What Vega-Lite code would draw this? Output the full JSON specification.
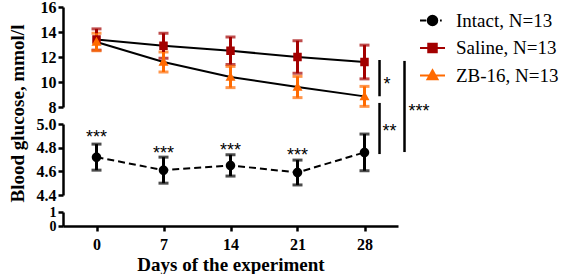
{
  "$schema": "https://vega.github.io/schema/vega-lite/v6.json",
  "background": "white",
  "padding": {"left": 7, "top": -1, "right": 0, "bottom": 0},
  "config": {
    "view": {"stroke": null},
    "axis": {
      "domainColor": "black", "domainWidth": 2.5, "tickColor": "black", "tickWidth": 2.5, "tickSize": 5,
      "labelFont": "Liberation Serif", "labelFontWeight": "bold", "labelFontSize": 16, "labelColor": "black", "labelPadding": 2,
      "titleFont": "Liberation Serif", "titleFontWeight": "bold", "titleFontSize": 19, "titleColor": "black", "grid": false
    },
    "legend": {"title": null, "orient": "none", "legendX": 356, "legendY": 0, "padding": 0, "labelFont": "Liberation Serif", "labelFontSize": 19, "labelColor": "black", "labelOffset": 10, "rowPadding": 3.5, "symbolSize": 625}
  },
  "datasets": {
    "means": [
      {"group": "Intact, N=13", "day": 0, "mean": 4.72, "sem": 0.11},
      {"group": "Intact, N=13", "day": 7, "mean": 4.61, "sem": 0.11},
      {"group": "Intact, N=13", "day": 14, "mean": 4.65, "sem": 0.09},
      {"group": "Intact, N=13", "day": 21, "mean": 4.59, "sem": 0.105},
      {"group": "Intact, N=13", "day": 28, "mean": 4.76, "sem": 0.155},
      {"group": "Saline, N=13", "day": 0, "mean": 13.4, "sem": 0.85},
      {"group": "Saline, N=13", "day": 7, "mean": 12.9, "sem": 1.0},
      {"group": "Saline, N=13", "day": 14, "mean": 12.5, "sem": 1.1},
      {"group": "Saline, N=13", "day": 21, "mean": 12.0, "sem": 1.3},
      {"group": "Saline, N=13", "day": 28, "mean": 11.6, "sem": 1.35},
      {"group": "ZB-16, N=13", "day": 0, "mean": 13.2, "sem": 0.7},
      {"group": "ZB-16, N=13", "day": 7, "mean": 11.6, "sem": 0.8},
      {"group": "ZB-16, N=13", "day": 14, "mean": 10.4, "sem": 0.85},
      {"group": "ZB-16, N=13", "day": 21, "mean": 9.6, "sem": 0.85},
      {"group": "ZB-16, N=13", "day": 28, "mean": 8.85, "sem": 0.8}
    ],
    "stars": [
      {"day": 0, "y": 4.836, "label": "***"},
      {"day": 7, "y": 4.701, "label": "***"},
      {"day": 14, "y": 4.726, "label": "***"},
      {"day": 21, "y": 4.686, "label": "***"}
    ],
    "brackets": [
      {"panel": "top", "x": 29.57, "y": 11.76, "y2": 8.86},
      {"panel": "mid", "x": 29.57, "y": 5.178, "y2": 4.746},
      {"panel": "mid", "x": 32.18, "y": 5.533, "y2": 4.763}
    ],
    "bracketLabels": [
      {"panel": "top", "x": 29.99, "y": 9.37, "label": "*"},
      {"panel": "mid", "x": 29.88, "y": 4.89, "label": "**"},
      {"panel": "mid", "x": 32.6, "y": 5.063, "label": "***"}
    ]
  },
  "spacing": 17,
  "bounds": "flush",
  "resolve": {"scale": {"color": "shared", "shape": "shared"}, "legend": {"color": "shared", "shape": "shared"}},
  "vconcat": [
    {
      "width": 335, "height": 100,
      "encoding": {
        "x": {"field": "day", "type": "quantitative", "scale": {"domain": [-3.5, 31.5], "nice": false, "zero": false}, "axis": null},
        "y": {"field": "mean", "type": "quantitative", "title": "Blood glucose, mmol/l", "scale": {"domain": [8, 16], "nice": false, "zero": false},
              "axis": {"values": [8, 10, 12, 14, 16], "titleX": -40, "titleY": 106, "titleBaseline": "alphabetic", "titleAlign": "center", "titleAngle": 270}}
      },
      "layer": [
        {
          "data": {"name": "means"},
          "transform": [{"filter": "datum.group !== 'Intact, N=13'"}],
          "mark": {"type": "line", "color": "black", "strokeWidth": 2},
          "encoding": {"detail": {"field": "group"}}
        },
        {
          "data": {"name": "means"},
          "transform": [{"filter": "datum.group !== 'Intact, N=13'"}],
          "mark": {"type": "errorbar", "thickness": 3, "ticks": {"size": 10, "thickness": 3}},
          "encoding": {
            "yError": {"field": "sem"},
            "color": {"field": "group", "type": "nominal", "scale": {"domain": ["Intact, N=13", "Saline, N=13", "ZB-16, N=13"], "range": ["black", "#a30000", "#ff6a00"]},
                      "legend": {"encode": {"symbols": {"update": {"stroke": {"value": "black"}, "strokeWidth": {"value": 2}}}}}}
          }
        },
        {
          "data": {"name": "means"},
          "transform": [{"filter": "datum.group !== 'Intact, N=13'"}],
          "mark": {"type": "point", "filled": true, "size": 625, "opacity": 1},
          "encoding": {
            "color": {"field": "group", "type": "nominal", "scale": {"domain": ["Intact, N=13", "Saline, N=13", "ZB-16, N=13"], "range": ["black", "#a30000", "#ff6a00"]},
                      "legend": {"encode": {"symbols": {"update": {"stroke": {"value": "black"}, "strokeWidth": {"value": 2}}}}}},
            "shape": {"field": "group", "type": "nominal", "scale": {"domain": ["Intact, N=13", "Saline, N=13", "ZB-16, N=13"],
                      "range": ["M-1,0H-0.5M0.6,0H0.74M0.38,0A0.38,0.38,0,1,1,-0.38,0A0.38,0.38,0,1,1,0.38,0Z", "M-1,0H1M-0.34,-0.34H0.34V0.34H-0.34Z", "M-1,0H1M0,-0.42L0.4,0.3H-0.4Z"]},
                      "legend": {"encode": {"symbols": {"update": {"stroke": {"value": "black"}, "strokeWidth": {"value": 2}}}}}}
          }
        },
        {
          "data": {"name": "brackets"},
          "transform": [{"filter": "datum.panel === 'top'"}],
          "mark": {"type": "rule", "color": "black", "strokeWidth": 2.5},
          "encoding": {
            "x": {"field": "x", "type": "quantitative"},
            "y": {"field": "y", "type": "quantitative", "title": "Blood glucose, mmol/l"},
            "y2": {"field": "y2"}
          }
        },
        {
          "data": {"name": "bracketLabels"},
          "transform": [{"filter": "datum.panel === 'top'"}],
          "mark": {"type": "text", "font": "Liberation Sans", "fontSize": 18, "align": "left", "baseline": "alphabetic", "color": "black"},
          "encoding": {
            "x": {"field": "x", "type": "quantitative"},
            "y": {"field": "y", "type": "quantitative", "title": "Blood glucose, mmol/l"},
            "text": {"field": "label"}
          }
        }
      ]
    },
    {
      "width": 335, "height": 71,
      "encoding": {
        "x": {"field": "day", "type": "quantitative", "scale": {"domain": [-3.5, 31.5], "nice": false, "zero": false}, "axis": null},
        "y": {"field": "mean", "type": "quantitative", "title": null, "scale": {"domain": [4.4, 5.0], "nice": false, "zero": false},
              "axis": {"values": [4.4, 4.6, 4.8, 5.0], "format": ".1f"}}
      },
      "layer": [
        {
          "data": {"name": "means"},
          "transform": [{"filter": "datum.group === 'Intact, N=13'"}],
          "mark": {"type": "line", "color": "black", "strokeWidth": 2, "strokeDash": [7, 4]}
        },
        {
          "data": {"name": "means"},
          "transform": [{"filter": "datum.group === 'Intact, N=13'"}],
          "mark": {"type": "errorbar", "thickness": 3, "ticks": {"size": 10, "thickness": 3}},
          "encoding": {
            "yError": {"field": "sem"},
            "color": {"field": "group", "type": "nominal", "scale": {"domain": ["Intact, N=13", "Saline, N=13", "ZB-16, N=13"], "range": ["black", "#a30000", "#ff6a00"]},
                      "legend": {"encode": {"symbols": {"update": {"stroke": {"value": "black"}, "strokeWidth": {"value": 2}}}}}}
          }
        },
        {
          "data": {"name": "means"},
          "transform": [{"filter": "datum.group === 'Intact, N=13'"}],
          "mark": {"type": "point", "filled": true, "size": 625, "opacity": 1},
          "encoding": {
            "color": {"field": "group", "type": "nominal", "scale": {"domain": ["Intact, N=13", "Saline, N=13", "ZB-16, N=13"], "range": ["black", "#a30000", "#ff6a00"]},
                      "legend": {"encode": {"symbols": {"update": {"stroke": {"value": "black"}, "strokeWidth": {"value": 2}}}}}},
            "shape": {"field": "group", "type": "nominal", "scale": {"domain": ["Intact, N=13", "Saline, N=13", "ZB-16, N=13"],
                      "range": ["M-1,0H-0.5M0.6,0H0.74M0.38,0A0.38,0.38,0,1,1,-0.38,0A0.38,0.38,0,1,1,0.38,0Z", "M-1,0H1M-0.34,-0.34H0.34V0.34H-0.34Z", "M-1,0H1M0,-0.42L0.4,0.3H-0.4Z"]},
                      "legend": {"encode": {"symbols": {"update": {"stroke": {"value": "black"}, "strokeWidth": {"value": 2}}}}}}
          }
        },
        {
          "data": {"name": "stars"},
          "mark": {"type": "text", "font": "Liberation Sans", "fontSize": 18, "align": "center", "baseline": "alphabetic", "color": "black"},
          "encoding": {
            "y": {"field": "y", "type": "quantitative", "title": null},
            "text": {"field": "label"}
          }
        },
        {
          "data": {"name": "brackets"},
          "transform": [{"filter": "datum.panel === 'mid'"}],
          "mark": {"type": "rule", "color": "black", "strokeWidth": 2.5},
          "encoding": {
            "x": {"field": "x", "type": "quantitative"},
            "y": {"field": "y", "type": "quantitative", "title": null},
            "y2": {"field": "y2"}
          }
        },
        {
          "data": {"name": "bracketLabels"},
          "transform": [{"filter": "datum.panel === 'mid'"}],
          "mark": {"type": "text", "font": "Liberation Sans", "fontSize": 18, "align": "left", "baseline": "alphabetic", "color": "black"},
          "encoding": {
            "x": {"field": "x", "type": "quantitative"},
            "y": {"field": "y", "type": "quantitative", "title": null},
            "text": {"field": "label"}
          }
        }
      ]
    },
    {
      "width": 335, "height": 14,
      "data": {"name": "means"},
      "transform": [{"filter": "datum.group === 'Intact, N=13'"}],
      "mark": {"type": "point", "opacity": 0},
      "encoding": {
        "x": {"field": "day", "type": "quantitative", "scale": {"domain": [-3.5, 31.5], "nice": false, "zero": false},
              "axis": {"values": [0, 7, 14, 21, 28], "title": "Days of the experiment", "labelPadding": 5, "titlePadding": 3, "labelFontSize": 16}},
        "y": {"field": "mean", "type": "quantitative", "scale": {"domain": [0, 1], "nice": false, "zero": false},
              "axis": {"values": [0, 1], "format": "d", "title": null, "labelFontSize": 14}}
      }
    }
  ]
}
